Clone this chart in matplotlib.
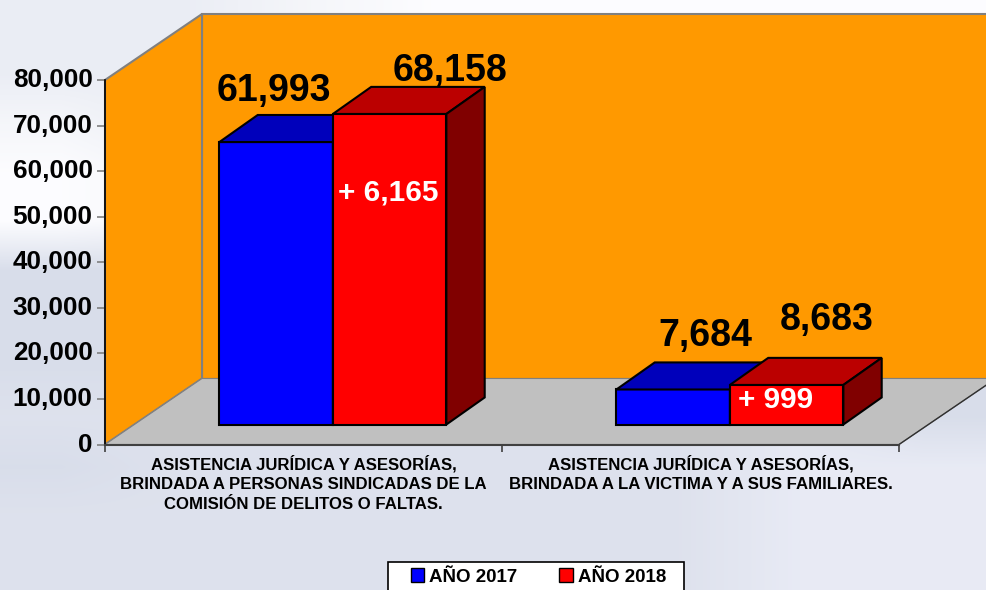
import numpy as np
import matplotlib
matplotlib.use('Agg')
import matplotlib.pyplot as plt
from matplotlib.patches import Polygon, Patch, Rectangle
from matplotlib.transforms import ScaledTranslation

plt.rcParams['font.family'] = ['Liberation Sans', 'DejaVu Sans']
plt.rcParams['font.weight'] = 'bold'

categories = ['ASISTENCIA JURÍDICA Y ASESORÍAS,\nBRINDADA A PERSONAS SINDICADAS DE LA\nCOMISIÓN DE DELITOS O FALTAS.',
              'ASISTENCIA JURÍDICA Y ASESORÍAS,\nBRINDADA A LA VICTIMA Y A SUS FAMILIARES.']
years = ['AÑO 2017', 'AÑO 2018']
values_2017 = [61993, 7684]
values_2018 = [68158, 8683]
differences = ['+ 6,165', '+ 999']
y_ticks = [0, 10000, 20000, 30000, 40000, 50000, 60000, 70000, 80000]

# photo behind the chart, only a rough wash of its tones
L = [.99, .99, 1.0]
W = [.96, .965, .98]
G = [.92, .93, .96]
M = [.85, .87, .92]
D = [.87, .885, .93]
H = [.91, .92, .96]
bg = np.array([
    [G, G, W, L, L, L, L, L],
    [G, G, G, W, W, W, W, W],
    [W, G, G, G, G, G, G, G],
    [L, W, G, G, G, G, G, G],
    [L, W, G, G, G, G, G, G],
    [M, M, M, M, M, M, M, M],
    [M, M, M, M, M, M, M, M],
    [M, M, M, M, D, D, H, M],
    [D, D, D, D, D, D, H, M],
    [M, D, D, D, D, D, H, H],
    [D, D, D, D, D, D, H, H],
    [D, D, D, D, D, D, H, H],
])

fig = plt.figure(figsize=(9.86, 5.90), dpi=100)
bg_ax = fig.add_axes([0, 0, 1, 1], zorder=0)
bg_ax.imshow(bg, aspect='auto', interpolation='bilinear', extent=[0, 1, 0, 1])
bg_ax.axis('off')

ax = fig.add_axes([105/986, (590-444.5)/590, 794/986, 364.5/590], zorder=1)
ax.patch.set_visible(False)
ax.set_xlim(0, 2)
ax.set_ylim(0, 80000)

# depth of the 3d box, in data units
depth_x = 97/397
depth_y = 66/364.5*80000


def poly(points, color, edge='black', lw=1.5, z=3):
    ax.add_patch(Polygon(points, closed=True, facecolor=color, edgecolor=edge,
                         linewidth=lw, zorder=z, clip_on=False, joinstyle='miter'))


# walls and floor
wall_edge = '#808080'
poly([(depth_x, depth_y), (2+depth_x, depth_y), (2+depth_x, 80000+depth_y), (depth_x, 80000+depth_y)],
     '#ff9900', wall_edge, 1.5, 1)
poly([(0, 0), (depth_x, depth_y), (depth_x, 80000+depth_y), (0, 80000)], '#ff9900', wall_edge, 1.5, 1.1)
poly([(0, 0), (2, 0), (2+depth_x, depth_y), (depth_x, depth_y)], '#c0c0c0', wall_edge, 0.8, 1.2)
ax.plot([2, 2+depth_x], [0, depth_y], color='#303030', lw=1, zorder=1.3, clip_on=False)

# bars stand a bit inside the box
bar_w = 113.5/397
inset = 0.303
x0 = inset*depth_x
y0 = inset*depth_y
dx = 0.395*depth_x
dy = 0.41*depth_y


def bar3d(left, val, front, top, side):
    l = left + x0
    r = l + bar_w
    b = y0
    t = y0 + val
    poly([(l, b), (r, b), (r, t), (l, t)], front)
    poly([(l, t), (r, t), (r+dx, t+dy), (l+dx, t+dy)], top)
    poly([(r, b), (r+dx, b+dy), (r+dx, t+dy), (r, t)], side)
    return (l+r)/2, t


label_offsets = [(-2, 51), (60, 42.5), (32, 53.5), (40, 64.5)]
delta_offsets = [(-1, -79), (-11, -15)]
for i in range(len(categories)):
    c = i + 0.5
    xa, ta = bar3d(c-bar_w, values_2017[i], '#0000ff', '#0000bb', '#000080')
    xb, tb = bar3d(c, values_2018[i], '#ff0000', '#bb0000', '#800000')
    for j, (xx, tt, v) in enumerate([(xa, ta, values_2017[i]), (xb, tb, values_2018[i])]):
        off = label_offsets[i*2+j]
        ax.annotate(f'{v:,}', (xx, tt), xytext=(off[0]*.72, off[1]*.72), textcoords='offset points',
                    ha='center', va='center', fontsize=27, color='black', zorder=6, annotation_clip=False)
    ax.annotate(differences[i], (xb, tb), xytext=(delta_offsets[i][0]*.72, delta_offsets[i][1]*.72),
                textcoords='offset points', ha='center', va='center', fontsize=21.4, color='white', zorder=6)

# axes
for s in ['top', 'right']:
    ax.spines[s].set_visible(False)
ax.spines['left'].set_color('black')
ax.spines['left'].set_linewidth(1.2)
ax.spines['bottom'].set_color('#404040')
ax.spines['bottom'].set_linewidth(1.5)
for s in ax.spines.values():
    s.set_zorder(5)
ax.set_yticks(y_ticks)
ax.set_yticklabels([f'{v:,}' for v in y_ticks], fontsize=18.8)
ax.tick_params(axis='y', length=6, width=1.2, color='#808080', pad=3)
up = ScaledTranslation(0, 2.5/100, fig.dpi_scale_trans)
for lab in ax.get_yticklabels():
    lab.set_transform(lab.get_transform() + up)
ax.set_xticks([0, 1, 2])
ax.set_xticklabels([])
ax.tick_params(axis='x', length=5, width=1.2, color='#404040')
ax.set_xticks([0.5, 1.5], categories, minor=True)
ax.tick_params(axis='x', which='minor', length=0, pad=7.5, labelsize=12.1)
for lab in ax.get_xticklabels(minor=True):
    lab.set_linespacing(1.42)

# legend box runs off the bottom of the picture
fig.add_artist(Rectangle((388/986, -0.01), 296/986, 28/590+0.01, transform=fig.transFigure,
                         facecolor='white', edgecolor='black', linewidth=1.2, zorder=3))
handles = [Patch(facecolor='#0000ff', edgecolor='black'), Patch(facecolor='#ff0000', edgecolor='black')]
leg = fig.legend(handles, years, ncol=2, loc='center left', bbox_to_anchor=(411/986, 13/590), borderaxespad=0,
                 fontsize=13.5, frameon=False, handlelength=0.7, handleheight=0.7, handletextpad=0.27,
                 columnspacing=2.24, borderpad=0)
leg.set_zorder(4)

fig.savefig('out.png', dpi=100)
